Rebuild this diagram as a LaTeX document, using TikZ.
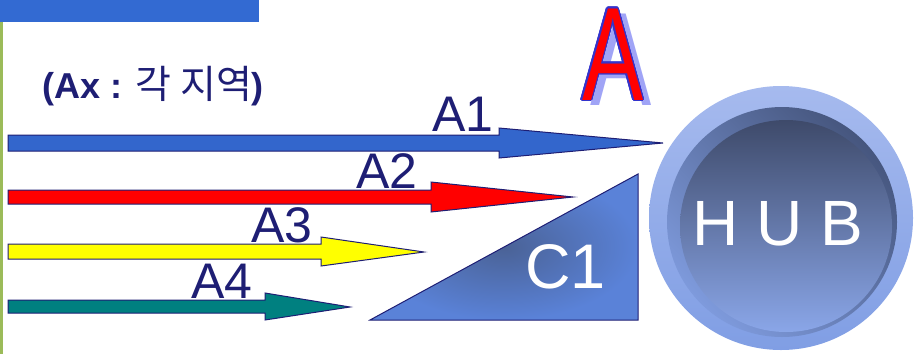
\documentclass[tikz,border=0pt]{standalone}
\usepackage{fontspec}
\setmainfont{Liberation Sans}
\newfontfamily\krfont{Noto Sans CJK KR}
\usetikzlibrary{calc}
\definecolor{barblue}{HTML}{336AD2}
\definecolor{barline}{HTML}{9BBB59}
\definecolor{navy}{HTML}{1E1E74}
\definecolor{aone}{HTML}{3366CC}
\definecolor{ared}{HTML}{FF0000}
\definecolor{ayellow}{HTML}{FFFF00}
\definecolor{ateal}{HTML}{008080}
\definecolor{shadowA}{HTML}{A0A4F6}
\definecolor{outlineA}{HTML}{3333CC}
\definecolor{triLight}{HTML}{5A82D8}
\definecolor{triDark}{HTML}{4A6296}
\definecolor{hubOutTop}{HTML}{A6BAEE}
\definecolor{hubOutBot}{HTML}{809EE4}
\definecolor{ringLight}{HTML}{7E9ADC}
\definecolor{ringDark}{HTML}{46567E}
\definecolor{hubInTop}{HTML}{3E4A6A}
\definecolor{hubInBot}{HTML}{8AA6E8}
\tikzset{
  arrowline/.style={draw=navy, line width=1pt, line join=miter},
  lbl/.style={anchor=base west, inner sep=0pt, text=navy, font=\fontsize{50}{60}\selectfont},
  bigA/.style={anchor=base west, inner sep=0pt, font=\fontsize{133}{140}\selectfont, xscale=0.69},
}
\newcommand{\blockarrow}[9]{%
  \filldraw[arrowline, fill=#1] (#2,#3) -- (#5,#3) -- (#5,#6) -- (#8,#9) -- (#5,#7) -- (#5,#4) -- (#2,#4) -- cycle;}
\begin{document}
\begin{tikzpicture}[x=1pt,y=-1pt]
\useasboundingbox (0,0) rectangle (915,354);
% top bar and left line
\fill[barblue] (0,0) rectangle (259,22);
\fill[barline] (0,22) rectangle (3,354);
% title text
\node[anchor=base west, inner sep=0pt, text=navy] (title) at (42,98.5)
  {\fontsize{36}{40}\selectfont\bfseries (Ax : {\krfont\mdseries\fontsize{39}{42}\selectfont 각 지역})};
% big A
\node[bigA, text=shadowA] (Ashadow) at (590,105) {A};
\foreach \ang in {0,22.5,...,337.5}{
  \node[bigA, text=outlineA] (Aout\ang) at ($(582,100)+(\ang:1.4)$) {A};
}
\node[bigA, text=ared] (Abig) at (582,100) {A};
% arrows
\blockarrow{aone}{8}{135}{151}{499}{128}{158}{663}{143}
\blockarrow{ared}{8}{190}{204}{431}{182}{212}{573}{197}
\blockarrow{ayellow}{8}{244}{259}{321}{237}{266}{424}{252}
\blockarrow{ateal}{8}{300}{313}{265}{293}{320}{350}{307}
% labels
\node[lbl] (l1) at (432,131) {A1};
\node[lbl] (l2) at (356,188) {A2};
\node[lbl] (l3) at (251,242) {A3};
\node[lbl] (l4) at (191,298) {A4};
% triangle C1
\shade[inner color=triDark, outer color=triLight] (370,320) -- (638,320) -- (638,174) -- cycle;
\draw[arrowline] (370,320) -- (638,320) -- (638,174) -- cycle;
\node[anchor=base west, inner sep=0pt, text=white, font=\fontsize{63}{70}\selectfont] (c1) at (525,288) {C1};
% HUB
\shade[top color=hubOutTop, bottom color=hubOutBot] (781,218) circle[radius=132];
\shade[left color=ringLight, right color=ringDark, shading angle=135] (782,222) circle[radius=115];
\shade[top color=hubInTop, bottom color=hubInBot] (786,226) circle[radius=106];
\node[anchor=base, inner sep=0pt, text=white, font=\fontsize{64}{70}\selectfont] (hub) at (778,245) {H U B};
\end{tikzpicture}
\end{document}
